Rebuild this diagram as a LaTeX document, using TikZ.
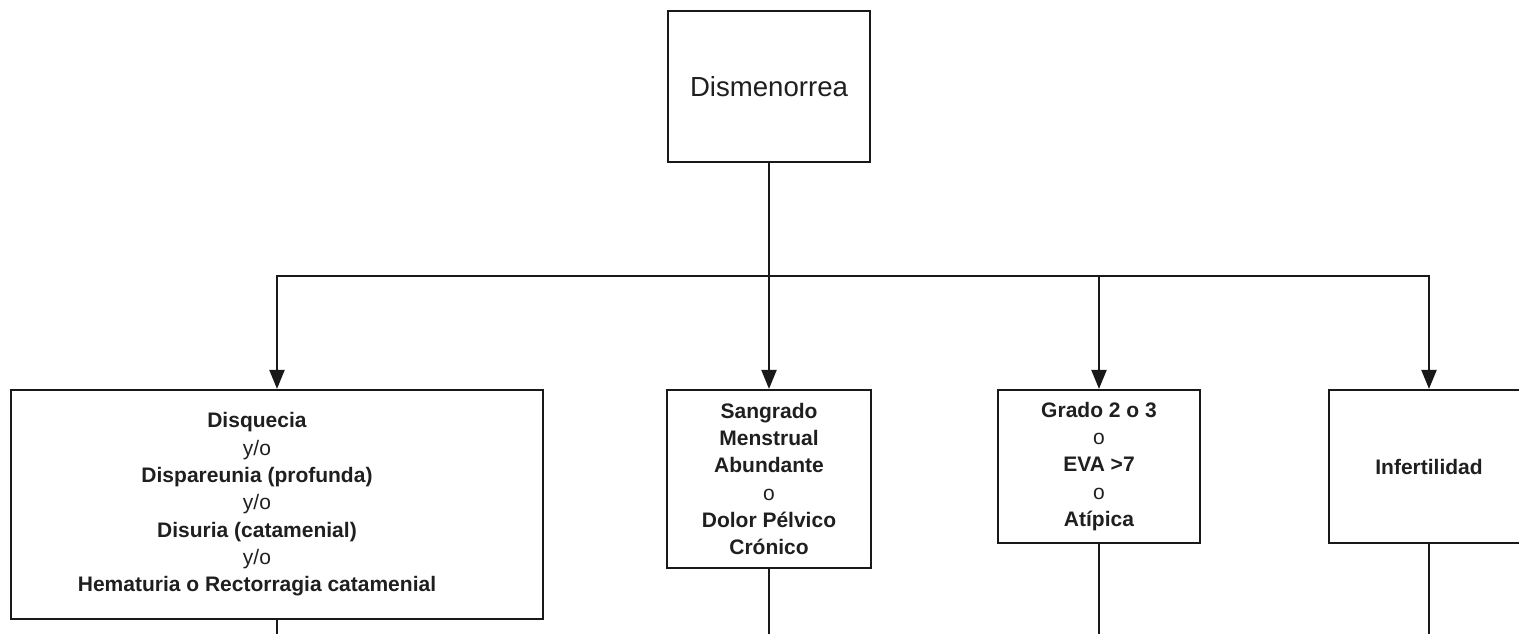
\documentclass[tikz,border=0pt]{standalone}
\usepackage{fontspec}
\setmainfont{Liberation Sans}
\usetikzlibrary{arrows.meta}
\begin{document}
\begin{tikzpicture}[x=1pt,y=-1pt,
  txt/.style={inner sep=0pt, align=center, text=black!88, font=\fontsize{21}{27.3}\selectfont},
  box/.style={txt, draw=black!90, line width=2.2pt, rectangle},
  conn/.style={draw=black!90, line width=2.2pt},
  arr/.style={conn, -{Triangle[length=19pt,width=15pt]}}]
\useasboundingbox (0,0) rectangle (1519,633);
\clip (0,0) rectangle (1519,633);
\node[box, minimum width=202pt, minimum height=151pt, font=\fontsize{27.6}{33}\selectfont] (top) at (769,86.5) {Dismenorrea};
\node[box, minimum width=532pt, minimum height=229pt] (b1) at (277,504.5) {};
\node[txt] (b1t) at (257,504.5)
  {\textbf{Disquecia}\\y/o\\\textbf{Dispareunia (profunda)}\\y/o\\\textbf{Disuria (catamenial)}\\y/o\\\textbf{Hematuria o Rectorragia catamenial}};
\node[box, minimum width=204pt, minimum height=178pt] (b2) at (769,479)
  {\textbf{Sangrado}\\\textbf{Menstrual}\\\textbf{Abundante}\\o\\\textbf{Dolor Pélvico}\\\textbf{Crónico}};
\node[box, minimum width=202pt, minimum height=153pt] (b3) at (1099,466.5)
  {\textbf{Grado 2 o 3}\\o\\\textbf{EVA >7}\\o\\\textbf{Atípica}};
\node[box, minimum width=200pt, minimum height=153pt] (b4) at (1429,466.5)
  {\textbf{Infertilidad}};
\coordinate (bus) at (769,276);
\coordinate (e1) at (277,650);
\coordinate (e2) at (769,650);
\coordinate (e3) at (1099,650);
\coordinate (e4) at (1429,650);
\draw[conn] (top.south) -- (bus);
\draw[arr] (bus) -| (b1.north);
\draw[arr] (bus) -- (b2.north);
\draw[arr] (bus) -| (b3.north);
\draw[arr] (bus) -| (b4.north);
\draw[conn] (b1.south) -- (e1);
\draw[conn] (b2.south) -- (e2);
\draw[conn] (b3.south) -- (e3);
\draw[conn] (b4.south) -- (e4);
\end{tikzpicture}
\end{document}
